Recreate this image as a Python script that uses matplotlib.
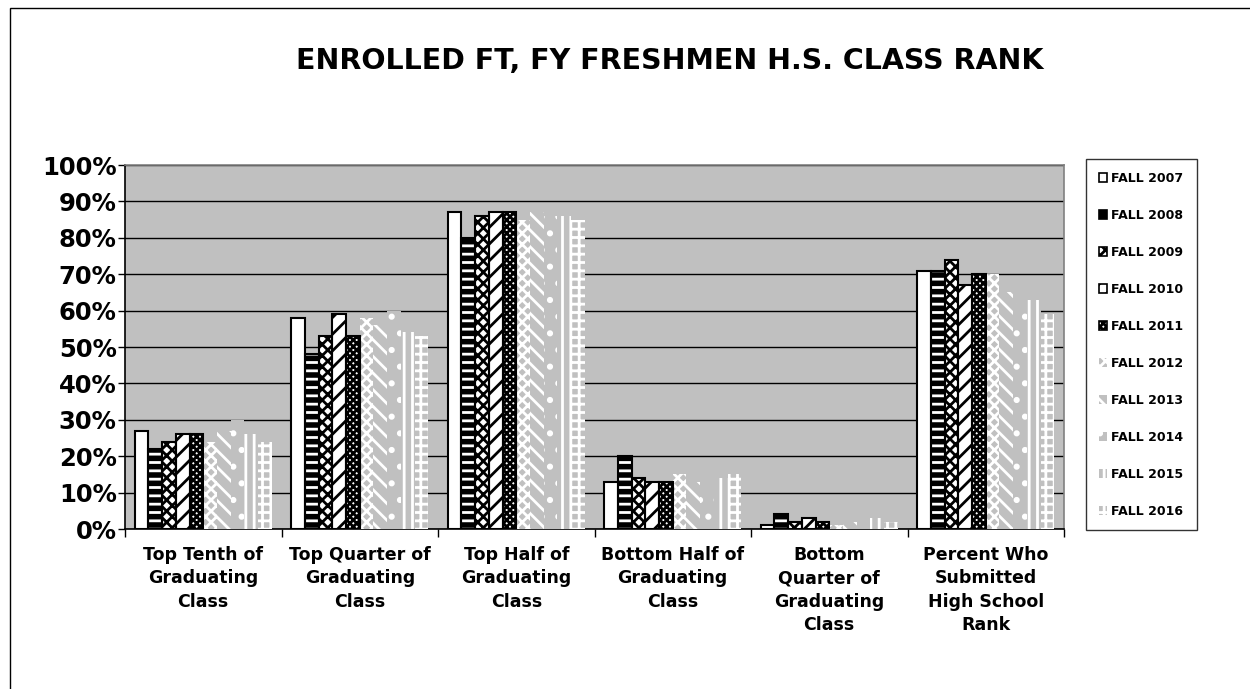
import matplotlib.pyplot as plt
import matplotlib.patches as mpatches
import numpy as np

plt.rcParams['font.family'] = ['DejaVu Sans']
plt.rcParams['hatch.linewidth'] = 2.0

categories = ["Top Tenth of\nGraduating\nClass",
              "Top Quarter of\nGraduating\nClass",
              "Top Half of\nGraduating\nClass",
              "Bottom Half of\nGraduating\nClass",
              "Bottom\nQuarter of\nGraduating\nClass",
              "Percent Who\nSubmitted\nHigh School\nRank"]

years = ["FALL 2007", "FALL 2008", "FALL 2009", "FALL 2010", "FALL 2011",
         "FALL 2012", "FALL 2013", "FALL 2014", "FALL 2015", "FALL 2016"]

fall_2007 = [27, 58, 87, 13, 1, 71]
fall_2008 = [22, 48, 80, 20, 4, 71]
fall_2009 = [24, 53, 86, 14, 2, 74]
fall_2010 = [26, 59, 87, 13, 3, 67]
fall_2011 = [26, 53, 87, 13, 2, 70]
fall_2012 = [24, 58, 85, 15, 1, 70]
fall_2013 = [27, 56, 87, 13, 2, 65]
fall_2014 = [30, 60, 86, 11, 0.5, 62]
fall_2015 = [26, 54, 86, 14, 3, 63]
fall_2016 = [24, 53, 85, 15, 2, 59]

series = [fall_2007, fall_2008, fall_2009, fall_2010, fall_2011,
          fall_2012, fall_2013, fall_2014, fall_2015, fall_2016]

bg = '#C0C0C0'
# (face, hatch, hatch colour, outline)
styles = [
    ('white', None, 'black', True),
    ('black', '--', 'white', True),
    ('white', 'xxx', 'black', True),
    ('white', '//', 'black', True),
    ('white', 'xxxxx', 'black', True),
    (bg, 'xxx', 'white', False),
    (bg, '\\\\', 'white', False),
    (bg, '.', 'white', False),
    (bg, '||', 'white', False),
    (bg, '++', 'white', False),
]

fig = plt.figure(figsize=(12.5, 6.89), dpi=100)
ax = fig.add_axes([0.1, 0.2322, 0.7512, 0.5283])
ax.set_facecolor(bg)

x = np.arange(len(categories))
n = len(series)
width = 0.0875
handles = []
for i, (vals, (face, hatch, hcol, outline)) in enumerate(zip(series, styles)):
    pos = x - width * n / 2 + width * (i + 0.5)
    ax.bar(pos, vals, width, color=face, hatch=hatch, edgecolor=hcol,
           linewidth=0, zorder=3)
    if outline:
        ax.bar(pos, vals, width, fill=False, edgecolor='black',
               linewidth=1.5, zorder=4)
    handles.append(mpatches.Patch(facecolor=face, hatch=hatch,
                                  edgecolor='black' if outline else hcol,
                                  linewidth=1.2 if outline else 0, label=years[i]))

ax.set_xlim(-0.5, len(categories) - 0.5)
ax.set_ylim(0, 100)
ax.set_yticks(np.arange(0, 101, 10))
ax.set_yticklabels([f"{v}%" for v in range(0, 101, 10)], fontsize=17.5, fontweight='bold')
ax.yaxis.grid(True, color='black', linewidth=1, zorder=1)
ax.set_axisbelow(True)

ax.set_xticks(x)
ax.set_xticklabels(categories, fontsize=12.5, fontweight='bold', linespacing=1.4)
ax.set_xticks(np.arange(-0.5, len(categories)), minor=True)
ax.tick_params(axis='x', which='major', length=0, pad=12)
ax.tick_params(axis='x', which='minor', length=6, width=1, direction='out')
ax.tick_params(axis='y', length=5, width=1, direction='out', pad=1)

ax.spines['left'].set_color('black')
ax.spines['bottom'].set_color('black')
ax.spines['top'].set_color('#808080')
ax.spines['right'].set_color('#808080')
for s in ax.spines.values():
    s.set_linewidth(1.2)

leg = fig.legend(handles=handles, loc='upper left',
                 bbox_to_anchor=(1086 / 1250, 1 - 166 / 689, 111 / 1250, 0.01),
                 mode='expand', frameon=True, fancybox=False,
                 prop={'size': 9, 'weight': 'bold'},
                 handlelength=0.7, handleheight=0.7, handletextpad=0.3,
                 labelspacing=1.92, borderpad=1.0, borderaxespad=0)
leg.get_frame().set_edgecolor('black')
leg.get_frame().set_linewidth(1.0)

fig.text(670 / 1250, 1 - 61 / 689, "ENROLLED FT, FY FRESHMEN H.S. CLASS RANK",
         ha='center', va='center', fontsize=20.5, fontweight='bold')

# outer chart border
fig.patches.append(mpatches.Rectangle((10 / 1250, -0.1), 1.2, 1 - 8 / 689 + 0.1,
                                      transform=fig.transFigure, fill=False,
                                      edgecolor='black', linewidth=1))

fig.savefig('out.png', dpi=100)
